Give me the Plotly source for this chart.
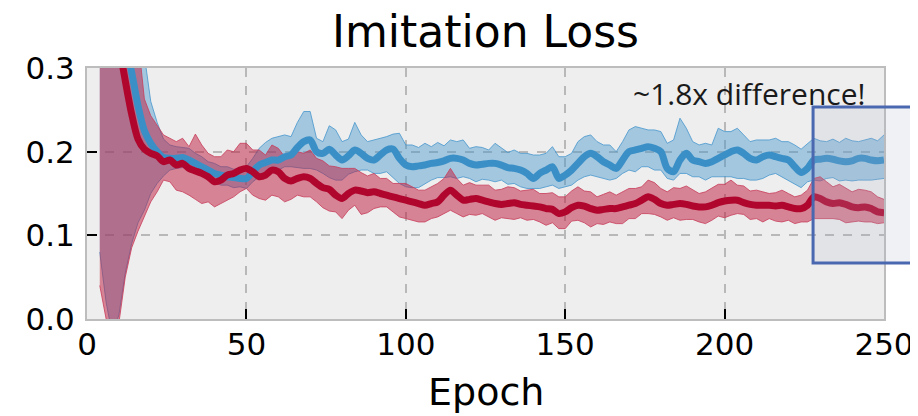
import plotly.graph_objects as go

# Epochs sampled every 2 epochs (4 .. 250)
epochs = list(range(4, 251, 2))

# Mean imitation loss, red run
red_mean = [
    0.60, 0.50, 0.40, 0.33, 0.285, 0.245, 0.215, 0.203, 0.198, 0.195,
    0.188, 0.190, 0.184, 0.186, 0.180, 0.177, 0.174, 0.170, 0.164, 0.166,
    0.172, 0.174, 0.178, 0.180, 0.176, 0.170, 0.172, 0.178, 0.176, 0.168,
    0.165, 0.168, 0.170, 0.168, 0.162, 0.157, 0.155, 0.148, 0.144, 0.150,
    0.154, 0.153, 0.151, 0.152, 0.150, 0.148, 0.146, 0.144, 0.142, 0.140,
    0.138, 0.136, 0.138, 0.140, 0.148, 0.154, 0.148, 0.142, 0.143, 0.144,
    0.142, 0.140, 0.138, 0.137, 0.138, 0.139, 0.137, 0.136, 0.135, 0.134,
    0.132, 0.131, 0.126, 0.128, 0.133, 0.136, 0.135, 0.132, 0.130, 0.131,
    0.132, 0.132, 0.134, 0.136, 0.138, 0.142, 0.146, 0.143, 0.138, 0.136,
    0.137, 0.138, 0.137, 0.135, 0.134, 0.134, 0.136, 0.139, 0.141, 0.142,
    0.142, 0.139, 0.137, 0.136, 0.136, 0.136, 0.135, 0.136, 0.134, 0.132,
    0.132, 0.136, 0.146, 0.144, 0.140, 0.138, 0.139, 0.137, 0.134, 0.133,
    0.134, 0.132, 0.128, 0.127,
]
# Band half-widths above / below the red mean
red_up = [
    0.9, 0.8, 0.7, 0.5, 0.35, 0.2, 0.12, 0.06, 0.045, 0.036,
    0.032, 0.026, 0.028, 0.03, 0.026, 0.044, 0.034, 0.028, 0.03, 0.028,
    0.03, 0.026, 0.032, 0.03, 0.026, 0.032, 0.024, 0.03, 0.028, 0.026,
    0.03, 0.032, 0.028, 0.034, 0.03, 0.032, 0.028, 0.034, 0.036, 0.03,
    0.026, 0.022, 0.02, 0.022, 0.018, 0.02, 0.016, 0.018, 0.02, 0.018,
    0.016, 0.018, 0.02, 0.022, 0.02, 0.026, 0.02, 0.018, 0.02, 0.016,
    0.018, 0.02, 0.016, 0.018, 0.02, 0.018, 0.016, 0.018, 0.02, 0.016,
    0.018, 0.02, 0.02, 0.018, 0.02, 0.022, 0.018, 0.02, 0.016, 0.018,
    0.02, 0.016, 0.018, 0.02, 0.018, 0.016, 0.02, 0.02, 0.018, 0.016,
    0.02, 0.018, 0.022, 0.02, 0.016, 0.018, 0.02, 0.022, 0.02, 0.024,
    0.018, 0.02, 0.016, 0.018, 0.016, 0.014, 0.016, 0.018, 0.016, 0.014,
    0.016, 0.018, 0.022, 0.026, 0.024, 0.02, 0.022, 0.02, 0.018, 0.022,
    0.02, 0.02, 0.018, 0.016,
]
red_down = [
    0.56, 0.50, 0.43, 0.335, 0.235, 0.16, 0.11, 0.08, 0.058, 0.043,
    0.022, 0.026, 0.03, 0.034, 0.032, 0.034, 0.036, 0.03, 0.03, 0.028,
    0.03, 0.028, 0.026, 0.024, 0.028, 0.026, 0.03, 0.03, 0.03, 0.028,
    0.022, 0.02, 0.024, 0.022, 0.022, 0.024, 0.026, 0.02, 0.024, 0.02,
    0.018, 0.028, 0.024, 0.02, 0.016, 0.014, 0.018, 0.022, 0.022, 0.022,
    0.022, 0.02, 0.018, 0.018, 0.022, 0.024, 0.022, 0.02, 0.018, 0.02,
    0.016, 0.018, 0.02, 0.016, 0.018, 0.02, 0.016, 0.018, 0.016, 0.018,
    0.02, 0.016, 0.018, 0.02, 0.016, 0.018, 0.02, 0.022, 0.016, 0.018,
    0.016, 0.018, 0.02, 0.016, 0.018, 0.016, 0.02, 0.018, 0.016, 0.018,
    0.016, 0.02, 0.018, 0.016, 0.018, 0.02, 0.018, 0.016, 0.02, 0.018,
    0.016, 0.014, 0.018, 0.016, 0.02, 0.016, 0.018, 0.02, 0.016, 0.018,
    0.016, 0.02, 0.026, 0.024, 0.02, 0.018, 0.02, 0.022, 0.018, 0.016,
    0.018, 0.016, 0.014, 0.012,
]

# Mean imitation loss, blue run
blue_mean = [
    0.70, 0.60, 0.50, 0.40, 0.33, 0.295, 0.255, 0.225, 0.210, 0.200,
    0.193, 0.192, 0.192, 0.193, 0.190, 0.186, 0.182, 0.178, 0.174, 0.172,
    0.170, 0.169, 0.168, 0.168, 0.176, 0.184, 0.187, 0.190, 0.190, 0.194,
    0.196, 0.205, 0.212, 0.214, 0.200, 0.198, 0.203, 0.196, 0.190, 0.195,
    0.202, 0.198, 0.192, 0.190, 0.196, 0.202, 0.203, 0.192, 0.184, 0.182,
    0.183, 0.184, 0.186, 0.187, 0.189, 0.192, 0.192, 0.190, 0.186, 0.184,
    0.185, 0.186, 0.186, 0.184, 0.181, 0.180, 0.178, 0.174, 0.168, 0.174,
    0.178, 0.182, 0.168, 0.172, 0.178, 0.186, 0.194, 0.198, 0.194, 0.188,
    0.184, 0.180, 0.190, 0.200, 0.202, 0.204, 0.206, 0.204, 0.200, 0.180,
    0.176, 0.190, 0.198, 0.190, 0.188, 0.186, 0.188, 0.192, 0.196, 0.200,
    0.202, 0.198, 0.192, 0.190, 0.194, 0.196, 0.194, 0.192, 0.190, 0.182,
    0.175, 0.180, 0.190, 0.191, 0.192, 0.191, 0.189, 0.188, 0.189, 0.192,
    0.192, 0.190, 0.189, 0.190,
]
blue_up = [
    1.0, 0.9, 0.8, 0.6, 0.4, 0.25, 0.15, 0.09, 0.05, 0.035,
    0.022, 0.016, 0.014, 0.012, 0.014, 0.012, 0.012, 0.01, 0.012, 0.01,
    0.012, 0.01, 0.012, 0.014, 0.016, 0.02, 0.024, 0.026, 0.028, 0.026,
    0.022, 0.03, 0.036, 0.034, 0.016, 0.014, 0.028, 0.03, 0.022, 0.02,
    0.033, 0.022, 0.02, 0.024, 0.02, 0.016, 0.018, 0.03, 0.024, 0.026,
    0.022, 0.026, 0.02, 0.024, 0.018, 0.022, 0.02, 0.024, 0.018, 0.022,
    0.02, 0.016, 0.024, 0.02, 0.018, 0.022, 0.02, 0.024, 0.028, 0.022,
    0.02, 0.024, 0.026, 0.022, 0.02, 0.026, 0.024, 0.022, 0.018, 0.02,
    0.024, 0.02, 0.022, 0.026, 0.028, 0.024, 0.02, 0.022, 0.024, 0.03,
    0.038, 0.05, 0.03, 0.022, 0.02, 0.024, 0.02, 0.036, 0.028, 0.024,
    0.026, 0.022, 0.02, 0.024, 0.02, 0.018, 0.022, 0.02, 0.022, 0.026,
    0.028, 0.03, 0.026, 0.022, 0.02, 0.024, 0.022, 0.028, 0.024, 0.02,
    0.022, 0.026, 0.024, 0.03,
]
blue_down = [
    0.62, 0.58, 0.52, 0.395, 0.275, 0.205, 0.14, 0.095, 0.06, 0.038,
    0.022, 0.014, 0.012, 0.012, 0.01, 0.012, 0.01, 0.012, 0.01, 0.012,
    0.01, 0.012, 0.01, 0.012, 0.012, 0.014, 0.016, 0.014, 0.012, 0.012,
    0.014, 0.024, 0.032, 0.034, 0.022, 0.024, 0.034, 0.03, 0.024, 0.022,
    0.026, 0.02, 0.014, 0.016, 0.022, 0.026, 0.034, 0.03, 0.026, 0.025,
    0.026, 0.022, 0.02, 0.018, 0.02, 0.022, 0.024, 0.02, 0.018, 0.02,
    0.018, 0.02, 0.022, 0.018, 0.02, 0.018, 0.02, 0.018, 0.012, 0.018,
    0.02, 0.022, 0.012, 0.014, 0.018, 0.02, 0.024, 0.026, 0.024, 0.02,
    0.018, 0.012, 0.016, 0.022, 0.026, 0.022, 0.024, 0.026, 0.022, 0.012,
    0.01, 0.016, 0.024, 0.02, 0.018, 0.02, 0.018, 0.022, 0.026, 0.03,
    0.034, 0.03, 0.026, 0.024, 0.026, 0.024, 0.02, 0.022, 0.024, 0.02,
    0.018, 0.016, 0.024, 0.026, 0.024, 0.022, 0.024, 0.022, 0.024, 0.026,
    0.026, 0.024, 0.022, 0.022,
]

x_ticks = [0, 50, 100, 150, 200, 250]
y_ticks = [0.0, 0.1, 0.2, 0.3]
y_tick_text = ["0.0", "0.1", "0.2", "0.3"]

RED = "#b0062e"
BLUE = "#3a8fc7"
RED_FILL = "rgba(190,25,60,0.5)"
BLUE_FILL = "rgba(70,150,205,0.45)"
RED_EDGE = "rgba(200,60,90,0.8)"
BLUE_EDGE = "rgba(70,150,205,0.8)"

red_hi = [m + u for m, u in zip(red_mean, red_up)]
red_lo = [m - d for m, d in zip(red_mean, red_down)]
blue_hi = [m + u for m, u in zip(blue_mean, blue_up)]
blue_lo = [m - d for m, d in zip(blue_mean, blue_down)]

fig = go.Figure()

def band(lo, hi, fill, edge):
    fig.add_trace(go.Scatter(x=epochs, y=lo, mode="lines",
                             line=dict(color=edge, width=1), hoverinfo="skip"))
    fig.add_trace(go.Scatter(x=epochs, y=hi, mode="lines", fill="tonexty",
                             fillcolor=fill, line=dict(color=edge, width=1),
                             hoverinfo="skip"))

band(blue_lo, blue_hi, BLUE_FILL, BLUE_EDGE)
band(red_lo, red_hi, RED_FILL, RED_EDGE)
fig.add_trace(go.Scatter(x=epochs, y=blue_mean, mode="lines",
                         line=dict(color=BLUE, width=7, shape="spline",
                                   smoothing=0.8)))
fig.add_trace(go.Scatter(x=epochs, y=red_mean, mode="lines",
                         line=dict(color=RED, width=7, shape="spline",
                                   smoothing=0.8)))

axis_font = dict(family="DejaVu Sans", size=31, color="black")

# page body adds an 8px margin, so the figure is 910x408
fig.update_layout(
    width=910, height=408,
    margin=dict(l=79, r=34, t=60, b=97),
    paper_bgcolor="white",
    plot_bgcolor="#eeeeee",
    showlegend=False,
    title=dict(text="Imitation Loss", x=0.5, xref="paper", xanchor="center",
               y=1 - 24 / 408, yref="container", yanchor="middle",
               font=dict(family="DejaVu Sans", size=44, color="black")),
    xaxis=dict(range=[0, 250], tickvals=x_ticks, ticks="inside", ticklen=10,
               tickwidth=2, tickcolor="black", tickfont=axis_font,
               showgrid=True, gridcolor="#b8b8b8", griddash="dash", gridwidth=1.5,
               showline=True, linecolor="#bdbdbd", linewidth=2, mirror=True,
               zeroline=False, ticklabelstandoff=-3, automargin=False),
    yaxis=dict(range=[0, 0.3], tickvals=y_ticks, ticktext=y_tick_text,
               ticks="inside", ticklen=10, tickwidth=2, tickcolor="black",
               tickfont=axis_font, showgrid=True, gridcolor="#b8b8b8",
               griddash="dash", gridwidth=1.5, showline=True,
               linecolor="#bdbdbd", linewidth=2, mirror=True, zeroline=False,
               ticklabelstandoff=4, automargin=False),
    shapes=[dict(type="rect", xref="paper", yref="paper",
                 x0=0.911, x1=1.06, y0=0.223, y1=0.845,
                 line=dict(color="#4a68b0", width=3),
                 fillcolor="rgba(170,178,200,0.18)", layer="above")],
    annotations=[
        dict(text="~1.8x difference!", xref="paper", yref="paper",
             x=0.83, y=0.90, xanchor="center", yanchor="middle",
             showarrow=False,
             font=dict(family="Open Sans", size=30, color="#1a1a1a")),
        dict(text="Epoch", xref="paper", yref="paper",
             x=0.5, y=-0.29, xanchor="center", yanchor="middle",
             showarrow=False,
             font=dict(family="DejaVu Sans", size=38, color="black")),
    ],
)

fig.write_html("out.html")
